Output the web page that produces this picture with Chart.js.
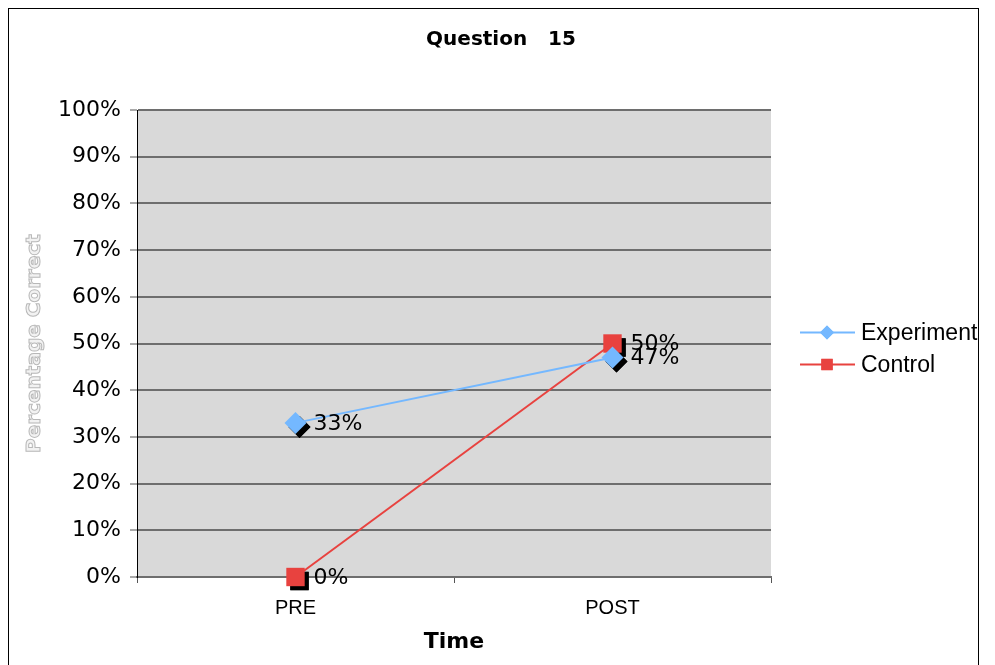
<!DOCTYPE html>
<html>
<head>
<meta charset="utf-8">
<title>Question 15</title>
<script src="https://cdn.jsdelivr.net/npm/chart.js@4.4.1/dist/chart.umd.min.js"></script>
<style>
  html, body { margin: 0; padding: 0; background: #ffffff; }
  #wrap { position: relative; width: 995px; height: 665px; }
</style>
</head>
<body>
<div id="wrap"><canvas id="chart" width="995" height="665"></canvas></div>
<script>
// Test phases on the x axis
const categories = ['PRE', 'POST'];
// Percentage of students answering correctly
const experimentValues = [33, 47];
const controlValues = [0, 50];
const seriesNames = ['Experiment', 'Control'];
const chartTitle = 'Question   15';
const xAxisTitle = 'Time';
const yAxisTitle = 'Percentage Correct';

const SANS = '"DejaVu Sans", Verdana, sans-serif';
const ARIAL = '"Liberation Sans", Arial, sans-serif';

// Outer frame and grey plotting area
const backdrop = {
  id: 'backdrop',
  beforeDraw(chart) {
    const { ctx, chartArea: a } = chart;
    ctx.save();
    ctx.fillStyle = '#ffffff';
    ctx.fillRect(0, 0, chart.width, chart.height);
    ctx.strokeStyle = '#000000';
    ctx.lineWidth = 1;
    ctx.strokeRect(8.5, 8.5, 970, 680);
    ctx.fillStyle = '#d9d9d9';
    ctx.fillRect(a.left, a.top, a.right - a.left, a.bottom - a.top);
    ctx.restore();
  }
};

// Chart heading, centred across the framed area
const heading = {
  id: 'heading',
  afterDraw(chart) {
    const ctx = chart.ctx;
    ctx.save();
    ctx.font = 'bold 20px ' + SANS;
    ctx.fillStyle = '#000000';
    ctx.textAlign = 'center';
    ctx.textBaseline = 'middle';
    ctx.fillText(chartTitle, 501, 40);
    ctx.restore();
  }
};

// Black drop shadow behind each marker
const markerShadow = {
  id: 'markerShadow',
  beforeDatasetsDraw(chart) {
    const ctx = chart.ctx;
    chart.data.datasets.forEach((ds, i) => {
      const meta = chart.getDatasetMeta(i);
      meta.data.forEach(pt => {
        ctx.save();
        ctx.fillStyle = '#000000';
        ctx.strokeStyle = '#000000';
        Chart.helpers.drawPoint(ctx, {
          pointStyle: ds.pointStyle,
          radius: ds.pointRadius,
          rotation: 0,
          borderWidth: 0
        }, pt.x + 4, pt.y + 4);
        ctx.fill();
        ctx.restore();
      });
    });
  }
};

// Value labels beside each marker
const valueLabels = {
  id: 'valueLabels',
  afterDatasetsDraw(chart) {
    const ctx = chart.ctx;
    ctx.save();
    ctx.font = '22px ' + SANS;
    ctx.fillStyle = '#000000';
    ctx.textAlign = 'left';
    ctx.textBaseline = 'middle';
    chart.data.datasets.forEach((ds, i) => {
      const meta = chart.getDatasetMeta(i);
      meta.data.forEach((pt, j) => {
        ctx.fillText(ds.data[j] + '%', pt.x + 18, pt.y + 1);
      });
    });
    ctx.restore();
  }
};

// Outlined vertical axis title
const yTitle = {
  id: 'yTitle',
  afterDraw(chart) {
    const { ctx, chartArea: a } = chart;
    ctx.save();
    ctx.translate(35, (a.top + a.bottom) / 2);
    ctx.rotate(-Math.PI / 2);
    ctx.font = 'bold 20px ' + SANS;
    ctx.textAlign = 'center';
    ctx.textBaseline = 'middle';
    ctx.fillStyle = '#f2f2f2';
    ctx.fillText(yAxisTitle, 0, 0);
    ctx.strokeStyle = '#b8b8b8';
    ctx.lineWidth = 1;
    ctx.strokeText(yAxisTitle, 0, 0);
    ctx.restore();
  }
};

// Legend with line-and-marker swatches on the right
const sideLegend = {
  id: 'sideLegend',
  afterDraw(chart) {
    const { ctx, chartArea: a } = chart;
    const midY = (a.top + a.bottom) / 2;
    const rows = [midY - 11, midY + 21];
    chart.data.datasets.forEach((ds, i) => {
      const y = rows[i];
      ctx.save();
      ctx.strokeStyle = ds.borderColor;
      ctx.lineWidth = 2;
      ctx.beginPath();
      ctx.moveTo(800, y);
      ctx.lineTo(855, y);
      ctx.stroke();
      ctx.fillStyle = ds.backgroundColor;
      Chart.helpers.drawPoint(ctx, {
        pointStyle: ds.pointStyle,
        radius: ds.pointStyle === 'rect' ? 8 : 7,
        rotation: 0,
        borderWidth: 0
      }, 827, y);
      ctx.fill();
      ctx.font = '23px ' + ARIAL;
      ctx.fillStyle = '#000000';
      ctx.textAlign = 'left';
      ctx.textBaseline = 'middle';
      ctx.fillText(ds.label, 861, y + 1);
      ctx.restore();
    });
  }
};

new Chart(document.getElementById('chart'), {
  type: 'line',
  data: {
    labels: categories,
    datasets: [
      {
        label: seriesNames[0],
        data: experimentValues,
        borderColor: '#74b8ff',
        backgroundColor: '#74b8ff',
        borderWidth: 2,
        pointStyle: 'rectRot',
        pointRadius: 11,
        pointBorderWidth: 0,
        pointBackgroundColor: '#74b8ff',
        tension: 0,
        clip: false
      },
      {
        label: seriesNames[1],
        data: controlValues,
        borderColor: '#e8423f',
        backgroundColor: '#e8423f',
        borderWidth: 2,
        pointStyle: 'rect',
        pointRadius: 13,
        pointBorderWidth: 0,
        pointBackgroundColor: '#e8423f',
        tension: 0,
        clip: false
      }
    ]
  },
  options: {
    responsive: false,
    animation: false,
    events: [],
    layout: { padding: { left: 0, right: 224, top: 110, bottom: 0 } },
    plugins: {
      legend: { display: false },
      tooltip: { enabled: false },
      title: { display: false }
    },
    scales: {
      x: {
        offset: true,
        afterFit(scale) { scale.height = 88; },
        grid: {
          offset: true,
          drawOnChartArea: false,
          drawTicks: true,
          tickLength: 6,
          color: '#555555',
          lineWidth: 1
        },
        border: { color: '#6e6e6e', width: 2 },
        ticks: {
          color: '#000000',
          font: { family: ARIAL, size: 20 },
          padding: 13
        },
        title: {
          display: true,
          text: xAxisTitle,
          color: '#000000',
          font: { family: SANS, size: 22, weight: 'bold' },
          padding: { top: 0, bottom: 10 }
        }
      },
      y: {
        min: 0,
        max: 100,
        afterFit(scale) { scale.width = 137; },
        grid: {
          color: '#6e6e6e',
          lineWidth: 2,
          drawTicks: true,
          tickLength: 7,
          tickColor: '#555555',
          tickWidth: 1
        },
        border: { color: '#000000', width: 1 },
        ticks: {
          stepSize: 10,
          color: '#000000',
          font: { family: SANS, size: 22 },
          padding: 9,
          callback: v => v + '%'
        }
      }
    }
  },
  plugins: [backdrop, heading, markerShadow, valueLabels, yTitle, sideLegend]
});
</script>
</body>
</html>
